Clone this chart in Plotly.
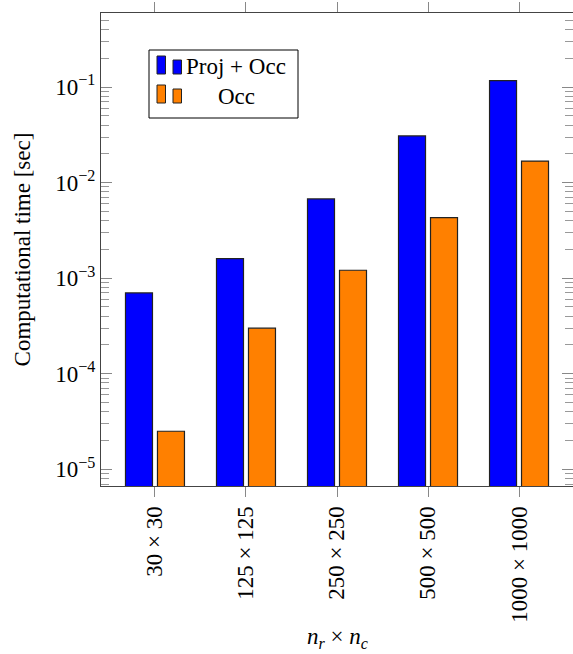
import plotly.graph_objects as go

categories = ["30 × 30", "125 × 125", "250 × 250", "500 × 500", "1000 × 1000"]
proj_occ = [7.0e-4, 1.6e-3, 6.75e-3, 3.08e-2, 1.17e-1]
occ = [2.5e-5, 3.0e-4, 1.21e-3, 4.3e-3, 1.68e-2]
series_names = ["Proj + Occ", "Occ"]
series_colors = ["#0000FF", "#FF8000"]
major_exps = [-5, -4, -3, -2, -1]
major_text = ["10<sup>−5</sup>", "10<sup>−4</sup>", "10<sup>−3</sup>", "10<sup>−2</sup>", "10<sup>−1</sup>"]
x_title = "<i>n</i><sub><i>r</i></sub> × <i>n</i><sub><i>c</i></sub>"
y_title = "Computational time [sec]"

FONT = "Liberation Serif, Times New Roman, Times, serif"
FS = 23
WIDTH, HEIGHT = 573, 654
L, R, T, B = 101, 573, 13, 486
PW, PH = R - L, B - T

def px(x):
    return (x - L) / PW

def py(y):
    return (B - y) / PH

fig = go.Figure()
for name, vals, col in zip(series_names, [proj_occ, occ], series_colors):
    fig.add_trace(go.Bar(
        x=categories, y=vals, name=name,
        marker=dict(color=col, line=dict(color="#222222", width=1.2)),
        showlegend=False,
    ))

minor_vals = [m * 10 ** e for e in range(-6, 0) for m in range(2, 10)]

fig.update_layout(
    width=WIDTH, height=HEIGHT,
    margin=dict(l=L, r=WIDTH - R, t=T, b=HEIGHT - B, autoexpand=False),
    paper_bgcolor="white", plot_bgcolor="white",
    font=dict(family=FONT, size=FS, color="black"),
    barmode="group", bargap=0.297, bargroupgap=0.156,
    showlegend=False,
)
fig.update_xaxes(
    type="category", range=[-0.593, 4.593],
    showline=True, linecolor="#444444", linewidth=1.2, mirror="ticks",
    ticks="outside", ticklen=10, tickcolor="#888888", tickwidth=1,
    tickangle=-90, showgrid=False,
    tickfont=dict(family=FONT, size=FS),
    automargin=False,
)
fig.update_yaxes(
    type="log", range=[-5.175, -0.225],
    showline=True, linecolor="#444444", linewidth=1.2, mirror="ticks",
    ticks="inside", ticklen=11, tickcolor="#888888", tickwidth=1,
    tickmode="array", tickvals=[10 ** e for e in major_exps], ticktext=major_text,
    minor=dict(ticks="inside", ticklen=8, tickcolor="#999999", tickwidth=1,
               tickmode="array", tickvals=minor_vals, showgrid=False),
    showgrid=False, zeroline=False,
    tickfont=dict(family=FONT, size=FS),
    title=dict(text=y_title, font=dict(family=FONT, size=FS), standoff=18),
    automargin=False,
)

# legend (drawn manually to mimic pgfplots ybar legend images)
shapes = [dict(type="rect", xref="paper", yref="paper",
               x0=px(149), x1=px(298), y0=py(118), y1=py(50),
               line=dict(color="black", width=1), fillcolor="white", layer="above")]
annotations = [dict(xref="paper", yref="paper", x=0.5, y=py(638), text=x_title,
                    showarrow=False, xanchor="center", yanchor="middle",
                    font=dict(family=FONT, size=FS, color="black"))]
row_bottoms = [74, 103]
for i, (name, col) in enumerate(zip(series_names, series_colors)):
    yb = row_bottoms[i]
    shapes.append(dict(type="rect", xref="paper", yref="paper",
                       x0=px(157), x1=px(165.5), y0=py(yb), y1=py(yb - 18),
                       line=dict(color="#222222", width=1), fillcolor=col, layer="above"))
    shapes.append(dict(type="rect", xref="paper", yref="paper",
                       x0=px(173), x1=px(181.5), y0=py(yb), y1=py(yb - 14),
                       line=dict(color="#222222", width=1), fillcolor=col, layer="above"))
    annotations.append(dict(xref="paper", yref="paper", x=px(236), y=py(yb - 7),
                            text=name, showarrow=False, xanchor="center", yanchor="middle",
                            font=dict(family=FONT, size=FS, color="black")))
fig.update_layout(shapes=shapes, annotations=annotations)

fig.write_html("out.html", config={"displayModeBar": False},
               post_script="document.body.style.margin='0';")
